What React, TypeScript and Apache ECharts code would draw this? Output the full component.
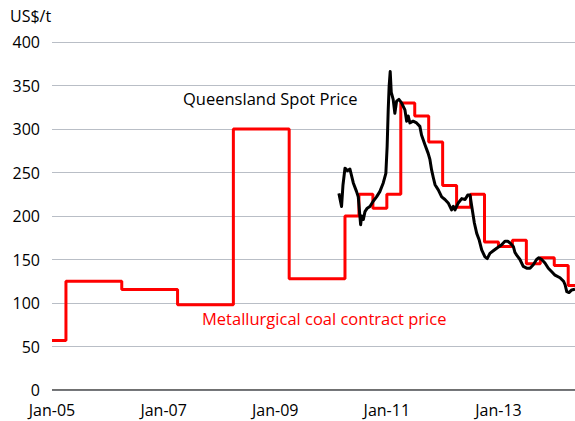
import React, { useEffect, useRef } from "react";
import * as echarts from "echarts";

const xTickLabels = ["Jan-05", "Jan-07", "Jan-09", "Jan-11", "Jan-13"];

const contractDates = [
  "2005-01-01", "2005-04-01", "2006-04-01", "2007-04-01", "2008-04-01", "2009-04-01",
  "2010-04-01", "2010-07-01", "2010-10-01", "2011-01-01", "2011-04-01", "2011-07-01",
  "2011-10-01", "2012-01-01", "2012-04-01", "2012-07-01", "2012-10-01", "2013-01-01",
  "2013-04-01", "2013-07-01", "2013-10-01", "2014-01-01", "2014-04-01", "2014-05-15",
];
const contractValues = [
  57, 125, 115.5, 98, 300, 128,
  200, 225, 209, 225, 330, 315,
  285, 235, 210, 225, 170, 165,
  172, 145, 152, 143, 120, 120,
];

const spotDates = [
  "2010-02-22", "2010-03-09", "2010-03-18", "2010-04-01", "2010-04-17", "2010-05-03",
  "2010-05-25", "2010-06-16", "2010-06-27", "2010-07-12", "2010-07-19", "2010-07-30",
  "2010-08-10", "2010-08-25", "2010-09-12", "2010-10-03", "2010-10-25", "2010-11-16",
  "2010-12-08", "2010-12-25", "2011-01-03", "2011-01-10", "2011-01-16", "2011-01-23",
  "2011-01-30", "2011-02-12", "2011-02-23", "2011-03-04", "2011-03-19", "2011-04-06",
  "2011-04-28", "2011-05-09", "2011-05-19", "2011-05-30", "2011-06-21", "2011-07-13",
  "2011-08-04", "2011-08-15", "2011-09-07", "2011-09-28", "2011-10-09", "2011-10-20",
  "2011-11-01", "2011-11-12", "2011-12-03", "2011-12-25", "2012-01-16", "2012-02-07",
  "2012-02-29", "2012-03-10", "2012-03-21", "2012-04-12", "2012-05-04", "2012-05-26",
  "2012-06-13", "2012-06-28", "2012-07-09", "2012-07-26", "2012-08-11", "2012-08-26",
  "2012-09-13", "2012-10-04", "2012-10-19", "2012-11-06", "2012-11-28", "2012-12-20",
  "2013-01-22", "2013-02-13", "2013-03-01", "2013-03-16", "2013-04-07", "2013-04-18",
  "2013-04-29", "2013-05-20", "2013-06-11", "2013-07-03", "2013-07-25", "2013-08-16",
  "2013-09-07", "2013-09-22", "2013-10-10", "2013-11-01", "2013-11-23", "2013-12-15",
  "2014-01-06", "2014-02-08", "2014-03-01", "2014-03-11", "2014-03-22", "2014-04-06",
  "2014-04-24", "2014-05-15",
];
const spotValues = [
  226, 211, 235, 255, 252, 254,
  238, 228, 222, 190, 200, 196,
  205, 209, 211, 217, 222, 228,
  238, 249, 280, 322, 349, 366,
  342, 334, 318, 332, 334, 330,
  322, 309, 315, 307, 309, 307,
  303, 293, 282, 272, 265, 253,
  244, 236, 230, 222, 219, 215,
  207, 211, 207, 215, 220, 219,
  224, 224, 211, 192, 180, 173,
  161, 153, 151, 157, 160, 163,
  167, 171, 171, 169, 165, 158,
  155, 150, 142, 140, 140, 144,
  150, 152, 150, 146, 140, 136,
  132, 129, 125, 121, 113, 112,
  115, 116,
];

const X_MIN = "2005-01-01";
const X_MAX = "2014-05-15";

function decYear(s: string): number {
  const [y, m, d] = s.split("-").map(Number);
  return y + (m - 1) / 12 + (d - 1) / 365;
}

export default function App() {
  const ref = useRef<HTMLDivElement>(null);
  useEffect(() => {
    if (!ref.current) return;
    const chart = echarts.init(ref.current, undefined, { renderer: "svg" });
    const font = "Open Sans";
    chart.setOption({
      animation: false,
      backgroundColor: "#ffffff",
      textStyle: { fontFamily: font },
      grid: { left: 52, right: 0, top: 42, bottom: 31, containLabel: false },
      xAxis: {
        type: "value",
        min: decYear(X_MIN),
        max: decYear(X_MAX),
        interval: 2,
        axisLine: { show: false },
        axisTick: { show: false },
        splitLine: { show: false },
        axisLabel: {
          showMaxLabel: false,
          color: "#000",
          fontSize: 16,
          lineHeight: 16,
          fontFamily: font,
          margin: 12,
          formatter: (v: number) => {
            const idx = Math.round((v - 2005) / 2);
            return Math.abs(v - (2005 + idx * 2)) < 1e-6 ? xTickLabels[idx] || "" : "";
          },
        },
      },
      yAxis: {
        type: "value",
        min: 0,
        max: 400,
        interval: 50,
        axisLine: { show: false },
        axisTick: { show: false },
        splitLine: { show: true, lineStyle: { color: "#b9bec6", width: 1 } },
        axisLabel: { color: "#000", fontSize: 16, lineHeight: 16, fontFamily: font, margin: 12 },
      },
      graphic: [
        {
          type: "text",
          left: 10,
          top: 8,
          style: { text: "US$/t", fill: "#000", fontSize: 16, fontFamily: font },
        },
        {
          type: "text",
          left: 183,
          top: 90,
          style: { text: "Queensland Spot Price", fill: "#000", fontSize: 16.5, fontFamily: font },
        },
        {
          type: "text",
          left: 202,
          top: 310,
          style: { text: "Metallurgical coal contract price", fill: "#ff0000", fontSize: 16.5, fontFamily: font },
        },
      ],
      series: [
        {
          type: "line",
          name: "zero",
          data: [[decYear(X_MIN), 0], [decYear(X_MAX), 0]],
          symbol: "none",
          lineStyle: { color: "#404040", width: 1.5 },
          silent: true,
        },
        {
          type: "line",
          name: "Metallurgical coal contract price",
          step: "end",
          data: contractDates.map((d, i) => [decYear(d), contractValues[i]]),
          symbol: "none",
          lineStyle: { color: "#ff0000", width: 3 },
        },
        {
          type: "line",
          name: "Queensland Spot Price",
          data: spotDates.map((d, i) => [decYear(d), spotValues[i]]),
          symbol: "none",
          lineStyle: { color: "#000000", width: 3, join: "round" },
        },
      ],
    });
    return () => chart.dispose();
  }, []);
  return (
    <div
      ref={ref}
      style={{ position: "fixed", left: 0, top: 0, width: 575, height: 421, background: "#fff" }}
    />
  );
}
